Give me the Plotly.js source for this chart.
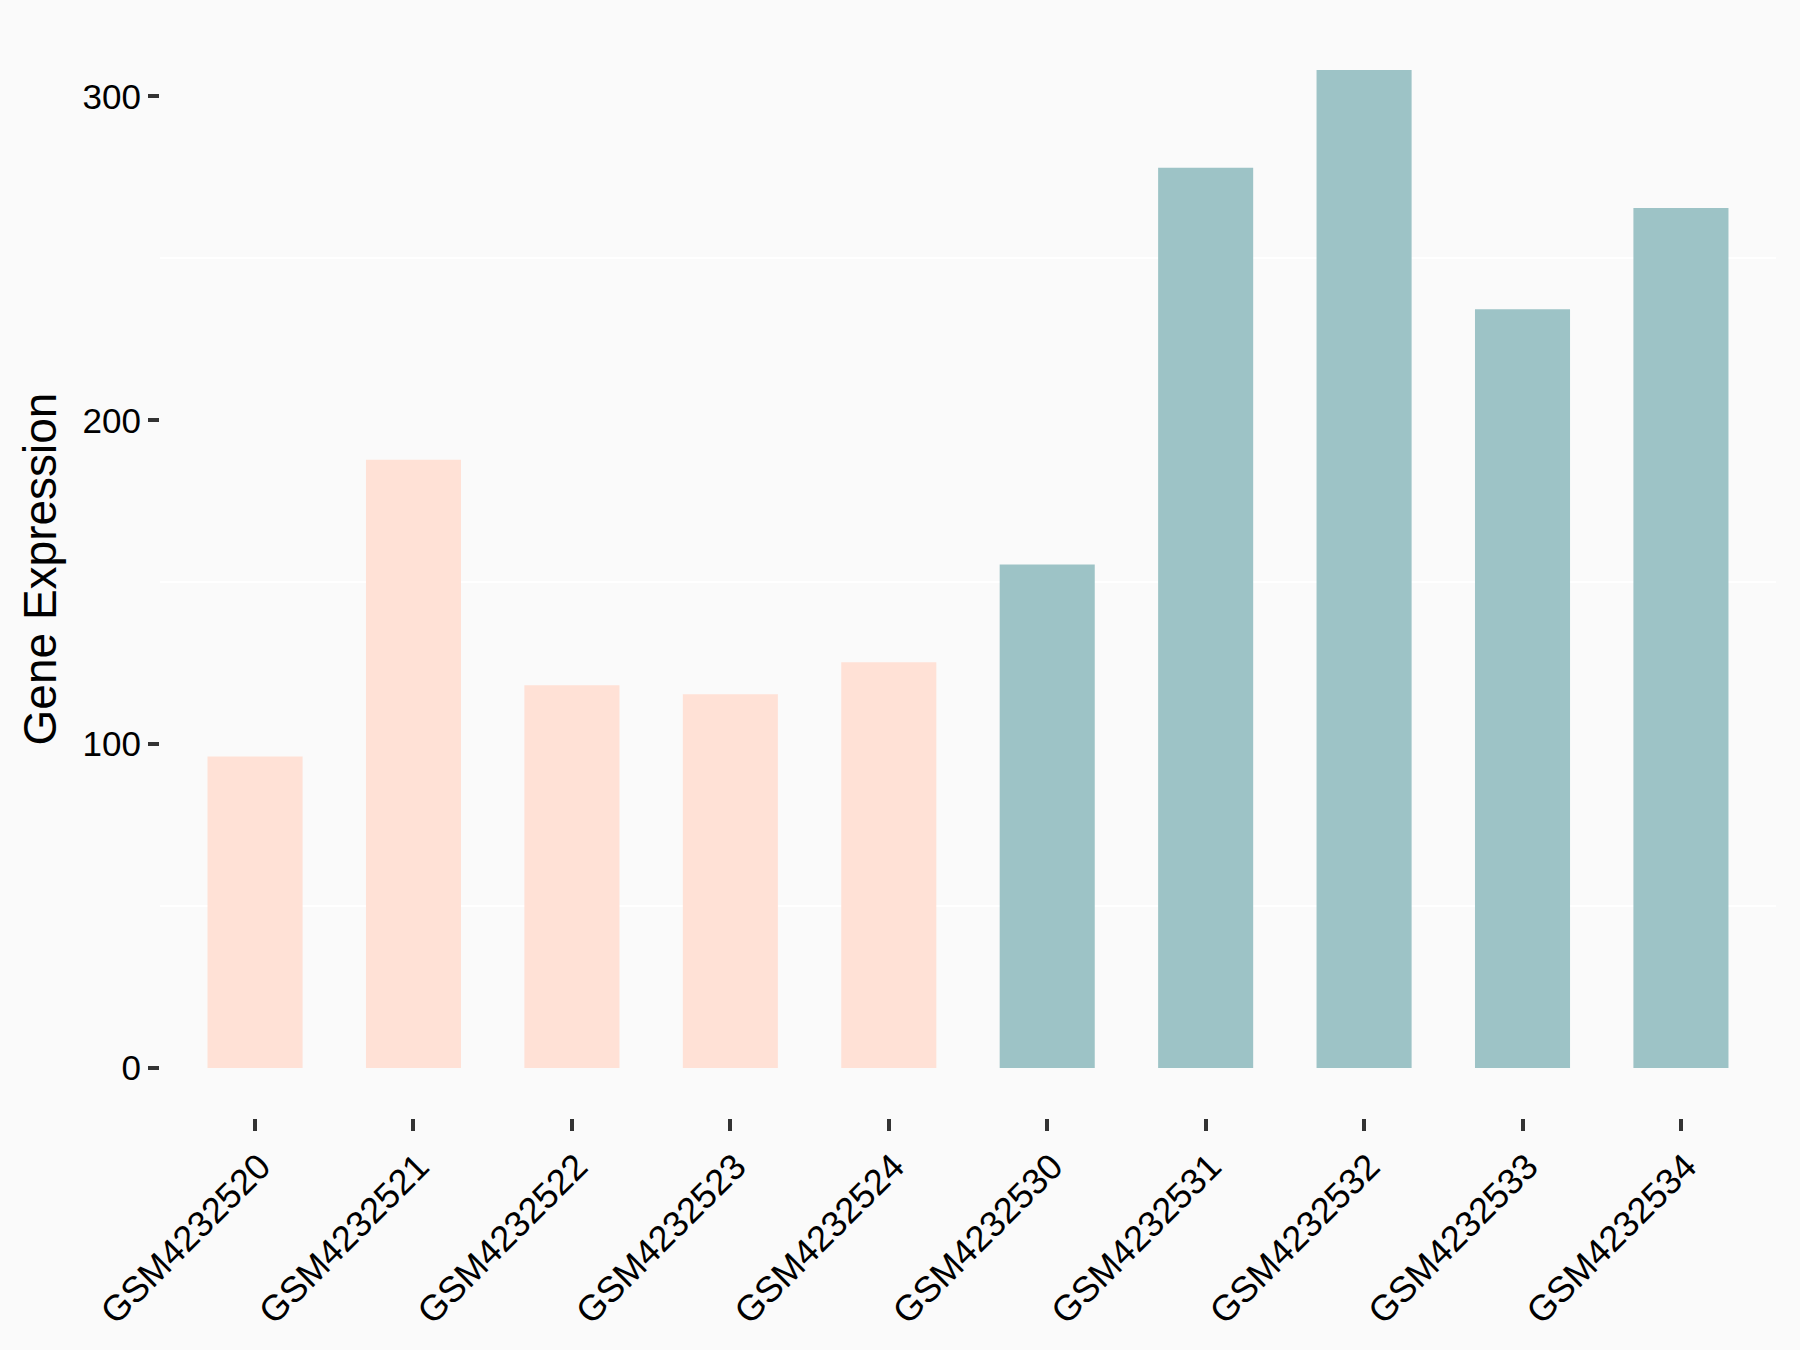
<!DOCTYPE html>
<html>
<head>
<meta charset="utf-8">
<script src="https://cdn.plot.ly/plotly-3.0.1.min.js"></script>
<style>html,body{margin:0;padding:0;background:#FAFAFA;}#chart{width:1800px;height:1350px;}</style>
</head>
<body>
<div id="chart"></div>
<script>
const samples = ["GSM4232520","GSM4232521","GSM4232522","GSM4232523","GSM4232524","GSM4232530","GSM4232531","GSM4232532","GSM4232533","GSM4232534"];
const expression = [96.2, 187.8, 118.2, 115.4, 125.3, 155.5, 278.0, 308.2, 234.3, 265.6];
const groups = ["A","A","A","A","A","B","B","B","B","B"];
const groupColors = {A: "#FFE1D6", B: "#9DC3C6"};
const yTicks = [0, 100, 200, 300];
const yTickLabels = ["0", "100", "200", "300"];
const gridVals = [50, 150, 250];

const maxV = Math.max(...expression);
const pad = maxV * 0.05;

const trace = {
  type: "bar",
  x: samples,
  y: expression,
  marker: {color: groups.map(g => groupColors[g]), line: {width: 0}},
  hoverinfo: "x+y"
};

const font = "Liberation Sans, Arial, sans-serif";
const layout = {
  width: 1800, height: 1350,
  paper_bgcolor: "#FAFAFA", plot_bgcolor: "#FAFAFA",
  margin: {l: 160, r: 24, t: 20, b: 232},
  bargap: 0.4,
  showlegend: false,
  font: {family: font, color: "#000000"},
  xaxis: {
    type: "category",
    range: [-0.6, samples.length - 0.4],
    showgrid: false, zeroline: false, showline: false,
    ticks: "outside", ticklen: 12, tickwidth: 4, tickcolor: "#333333",
    tickangle: -45,
    ticklabelshift: 5,
    tickfont: {family: font, size: 36, color: "#000000"}
  },
  yaxis: {
    range: [-pad, maxV + pad],
    tickvals: yTicks, ticktext: yTickLabels,
    showgrid: false, zeroline: false, showline: false,
    ticks: "outside", ticklen: 11, tickwidth: 4, tickcolor: "#333333",
    tickfont: {family: font, size: 35, color: "#000000"},
    minor: {tickmode: "array", tickvals: gridVals, showgrid: true, gridcolor: "#FFFFFF", gridwidth: 2, ticks: ""},
    title: {text: "Gene Expression", font: {family: font, size: 46, color: "#000000"}, standoff: 11}
  }
};

Plotly.newPlot("chart", [trace], layout, {displayModeBar: false, staticPlot: true});
</script>
</body>
</html>
